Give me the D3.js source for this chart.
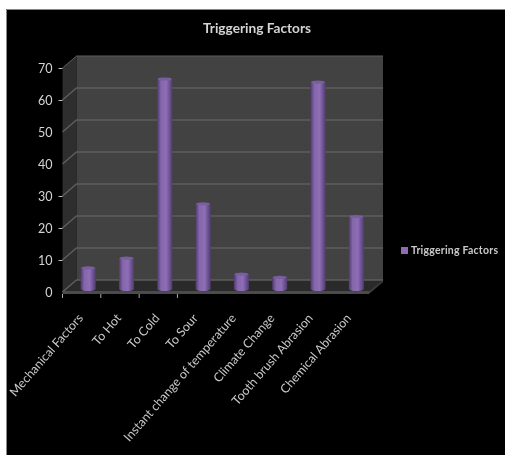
<!DOCTYPE html>
<html><head><meta charset="utf-8">
<script src="https://cdn.jsdelivr.net/npm/d3@7/dist/d3.min.js"></script>
<style>html,body{margin:0;padding:0;background:#fff}svg{display:block}</style>
</head><body><svg id="c" width="505" height="455"></svg>
<script>
const categories = ["Mechanical Factors","To Hot","To Cold","To Sour","Instant change of temperature","Climate Change","Tooth brush Abrasion","Chemical Abrasion"];
const values = [6,9,65,26,4,3,64,22];
const ticks = [0,10,20,30,40,50,60,70];
const visibleYTickMarks = [10,20,30,60,70];
const visibleXTickMarks = categories.slice(0,4);
const title = "Triggering Factors";
const seriesName = "Triggering Factors";

const svg = d3.select("#c");
const font = "Lato,'Open Sans',sans-serif";
const defs = svg.append("defs");
const grad = defs.append("linearGradient").attr("id","bar");
[[0,"#4f3b70"],[0.25,"#8566ab"],[0.6,"#8e6eb6"],[1,"#513c72"]].forEach(s=>grad.append("stop").attr("offset",s[0]).attr("stop-color",s[1]));
const mkBlur=(id,sd)=>defs.append("filter").attr("id",id).attr("x","-20%").attr("y","-20%").attr("width","140%").attr("height","140%").append("feGaussianBlur").attr("stdDeviation",sd);
mkBlur("blur",0.7); mkBlur("tblur",0.6);

svg.append("rect").attr("width",505).attr("height",455).attr("fill","#fff");
svg.append("rect").attr("x",6).attr("y",9).attr("width",499).attr("height",446).attr("fill","#000");
svg.append("path").attr("fill","none").attr("stroke","#888").attr("d","M6.5,455V9.5H505");

const g = svg.append("g").attr("filter","url(#blur)");
const D = {x:14,y:-12};
const y = d3.scaleLinear().domain([0,70]).range([292,68]);
const x = d3.scaleBand().domain(categories).range([62.5,369]);
const L = x.range()[0], R = x.range()[1];
const line = d3.line();
g.append("path").attr("fill","#2e2e2e").attr("d",line([[L,y(0)],[L+D.x,y(0)+D.y],[L+D.x,y(70)+D.y],[L,y(70)]]));
g.append("rect").attr("fill","#424242").attr("x",L+D.x).attr("y",y(70)+D.y).attr("width",R-L).attr("height",y(0)-y(70));
g.append("path").attr("fill","#2a2a2a").attr("d",line([[L,y(0)],[L+D.x,y(0)+D.y],[R+D.x,y(0)+D.y],[R,y(0)]]));
g.append("rect").attr("fill","#4c4c4c").attr("x",L).attr("y",y(0)-1).attr("width",R-L).attr("height",3);
g.append("path").attr("fill","#3c3c3c").attr("d",line([[R,y(0)+2],[R+D.x,y(0)+D.y+2],[R+D.x,y(0)+D.y],[R,y(0)-1]]));
ticks.forEach(t=>{
  g.append("path").attr("fill","none").attr("stroke","#5e5e5e").attr("stroke-width",t===70?1:1.4)
   .attr("d",line([[L,y(t)],[L+D.x,y(t)+D.y],[R+D.x,y(t)+D.y]]));
});
const ya = g.append("g").attr("transform",`translate(${L},0)`).call(d3.axisLeft(y).tickValues(ticks).tickSize(4).tickPadding(6));
ya.select(".domain").remove();
ya.selectAll(".tick line").attr("stroke",d=>visibleYTickMarks.includes(d)?"#bbb":"none");
ya.selectAll("text").attr("fill","#d4d4d4").attr("font-family",font).attr("font-size",12.5);
const xa = g.append("g").attr("transform",`translate(0,${y(0)+2})`).call(d3.axisBottom(x).tickSize(4).tickFormat(""));
xa.select(".domain").remove();
xa.selectAll(".tick").attr("transform",d=>`translate(${x(d)},0)`);
xa.selectAll("line").attr("stroke",d=>visibleXTickMarks.includes(d)?"#aaa":"none");
const bw = 15, off = 6.5;
const bars = g.append("g").selectAll("g").data(categories).join("g");
bars.each(function(c,i){
  const s = d3.select(this), cx = x(c)+x.bandwidth()/2+off, top = y(values[i])-5, bot = y(0)-3;
  s.append("rect").attr("x",cx-bw/2).attr("y",top).attr("width",bw).attr("height",bot-top).attr("fill","url(#bar)");
  s.append("ellipse").attr("cx",cx).attr("cy",bot).attr("rx",bw/2).attr("ry",2).attr("fill","url(#bar)");
  s.append("ellipse").attr("cx",cx).attr("cy",top).attr("rx",bw/2-.5).attr("ry",1.6).attr("fill","#7a5ea0");
});
const tg = svg.append("g").attr("filter","url(#tblur)");
tg.append("g").selectAll("text").data(categories).join("text")
  .attr("transform",d=>`translate(${x(d)+x.bandwidth()/2+2},${y(0)+26.5}) rotate(-49)`)
  .attr("text-anchor","end").attr("font-family",font).attr("font-size",12.4).attr("fill","#c8c8c8")
  .text(d=>d);
tg.append("text").attr("x",257).attr("y",33).attr("text-anchor","middle").attr("font-family",font).attr("font-size",13).attr("font-weight",700).attr("fill","#d4d4d4").attr("textLength",108).attr("lengthAdjust","spacingAndGlyphs").text(title);
g.append("rect").attr("x",401).attr("y",247).attr("width",7).attr("height",7).attr("fill","#8d6cb4");
tg.append("text").attr("x",411).attr("y",254).attr("font-family",font).attr("font-size",10.5).attr("font-weight",700).attr("fill","#cacaca").attr("textLength",87).attr("lengthAdjust","spacing").text(seriesName);
</script></body></html>
